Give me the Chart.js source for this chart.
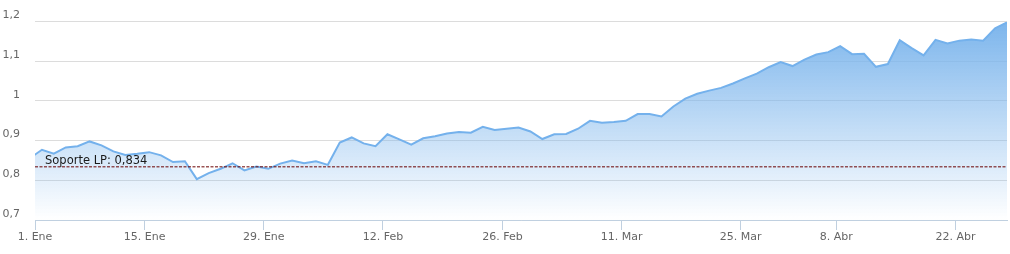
<!DOCTYPE html>
<html>
<head>
<meta charset="utf-8">
<script src="https://cdn.jsdelivr.net/npm/chart.js@4.4.1/dist/chart.umd.min.js"></script>
<style>
  html, body { margin: 0; padding: 0; background: #fff; }
  #wrap { width: 1010px; height: 254px; }
</style>
</head>
<body>
<div id="wrap"><canvas id="chart"></canvas></div>
<script>
// ===================== Datos ===================== //
// valores diarios (sesiones), el primero queda recortado por el borde izquierdo
const valores = [
    0.856, 0.877, 0.867, 0.883, 0.886, 0.898, 0.888, 0.873, 0.864, 0.867,
    0.871, 0.863, 0.846, 0.848, 0.803, 0.818, 0.829, 0.843, 0.825, 0.835,
    0.829, 0.842, 0.850, 0.843, 0.848, 0.839, 0.895, 0.908, 0.893, 0.886,
    0.916, 0.903, 0.890, 0.906, 0.911, 0.918, 0.922, 0.920, 0.935, 0.927,
    0.930, 0.933, 0.923, 0.904, 0.916, 0.917, 0.930, 0.950, 0.945, 0.947,
    0.950, 0.967, 0.967, 0.961, 0.986, 1.006, 1.018, 1.026, 1.033, 1.044,
    1.057, 1.069, 1.085, 1.098, 1.088, 1.104, 1.117, 1.123, 1.138, 1.118,
    1.119, 1.086, 1.093, 1.153, 1.133, 1.115, 1.154, 1.145, 1.152, 1.155,
    1.152, 1.183, 1.198
];
const sesiones = valores.map((v, i) => i - 1);

const fechasTicks = ['1. Ene', '15. Ene', '29. Ene', '12. Feb', '26. Feb', '11. Mar', '25. Mar', '8. Abr', '22. Abr'];
const posTicks = [-0.58, 8.62, 18.62, 28.62, 38.65, 48.65, 58.65, 66.67, 76.67];

const soporte = 0.834;
const yMin = 0.7, yMax = 1.2, yPaso = 0.1;

const fmt = v => String(Math.round(v * 1000) / 1000).replace('.', ',');

// ===================== Texto del soporte ===================== //
const etiquetaSoporte = {
    id: 'etiquetaSoporte',
    afterDatasetsDraw(chart) {
        const { ctx, chartArea, scales } = chart;
        const y = scales.y.getPixelForValue(soporte);
        ctx.save();
        ctx.font = '11.5px "DejaVu Sans"';
        ctx.fillStyle = '#1a1a1a';
        ctx.textBaseline = 'alphabetic';
        ctx.fillText('Soporte LP: ' + fmt(soporte), chartArea.left + 10, y - 3);
        ctx.restore();
    }
};

Chart.defaults.font.family = '"DejaVu Sans", "Lucida Grande", sans-serif';
Chart.defaults.font.size = 11;
Chart.defaults.color = '#666666';

const ctx = document.getElementById('chart');

new Chart(ctx, {
    type: 'line',
    data: {
        datasets: [
            {
                label: 'Soporte LP',
                data: [{ x: posTicks[0], y: soporte }, { x: sesiones[sesiones.length - 1], y: soporte }],
                borderColor: '#6a0000',
                borderWidth: 1,
                borderDash: [3, 1.5],
                pointRadius: 0,
                fill: false
            },
            {
                label: 'Valor',
                data: valores.map((v, i) => ({ x: sesiones[i], y: v })),
                borderColor: '#74b1ec',
                borderWidth: 2,
                pointRadius: 0,
                tension: 0,
                fill: 'start',
                backgroundColor: (c) => {
                    const area = c.chart.chartArea;
                    if (!area) return 'rgba(124,181,236,0.5)';
                    const g = c.chart.ctx.createLinearGradient(0, area.top, 0, area.bottom);
                    g.addColorStop(0, 'rgba(124,181,236,1)');
                    g.addColorStop(1, 'rgba(124,181,236,0)');
                    return g;
                }
            }
        ]
    },
    options: {
        responsive: true,
        maintainAspectRatio: false,
        animation: false,
        layout: { padding: { top: 20, right: 3, left: 0, bottom: 0 } },
        scales: {
            x: {
                type: 'linear',
                min: posTicks[0],
                max: sesiones[sesiones.length - 1],
                afterBuildTicks: (scale) => {
                    scale.ticks = posTicks.map(v => ({ value: v }));
                },
                afterFit: (scale) => { scale.height = 34; },
                ticks: {
                    autoSkip: false,
                    maxRotation: 0,
                    padding: 1,
                    callback: (value, index) => fechasTicks[index]
                },
                grid: {
                    drawOnChartArea: false,
                    drawTicks: true,
                    tickLength: 10,
                    color: '#C0D0E0'
                },
                border: { display: true, color: '#C0D0E0', width: 1 }
            },
            y: {
                min: yMin,
                max: yMax,
                afterFit: (scale) => { scale.width = 35; },
                ticks: {
                    stepSize: yPaso,
                    padding: 15,
                    labelOffset: -6,
                    callback: (value) => fmt(Math.round(value * 10) / 10)
                },
                grid: {
                    drawTicks: false,
                    color: '#DCDCDC'
                },
                border: { display: false }
            }
        },
        plugins: {
            legend: { display: false },
            tooltip: { enabled: false }
        }
    },
    plugins: [etiquetaSoporte]
});
</script>
</body>
</html>
